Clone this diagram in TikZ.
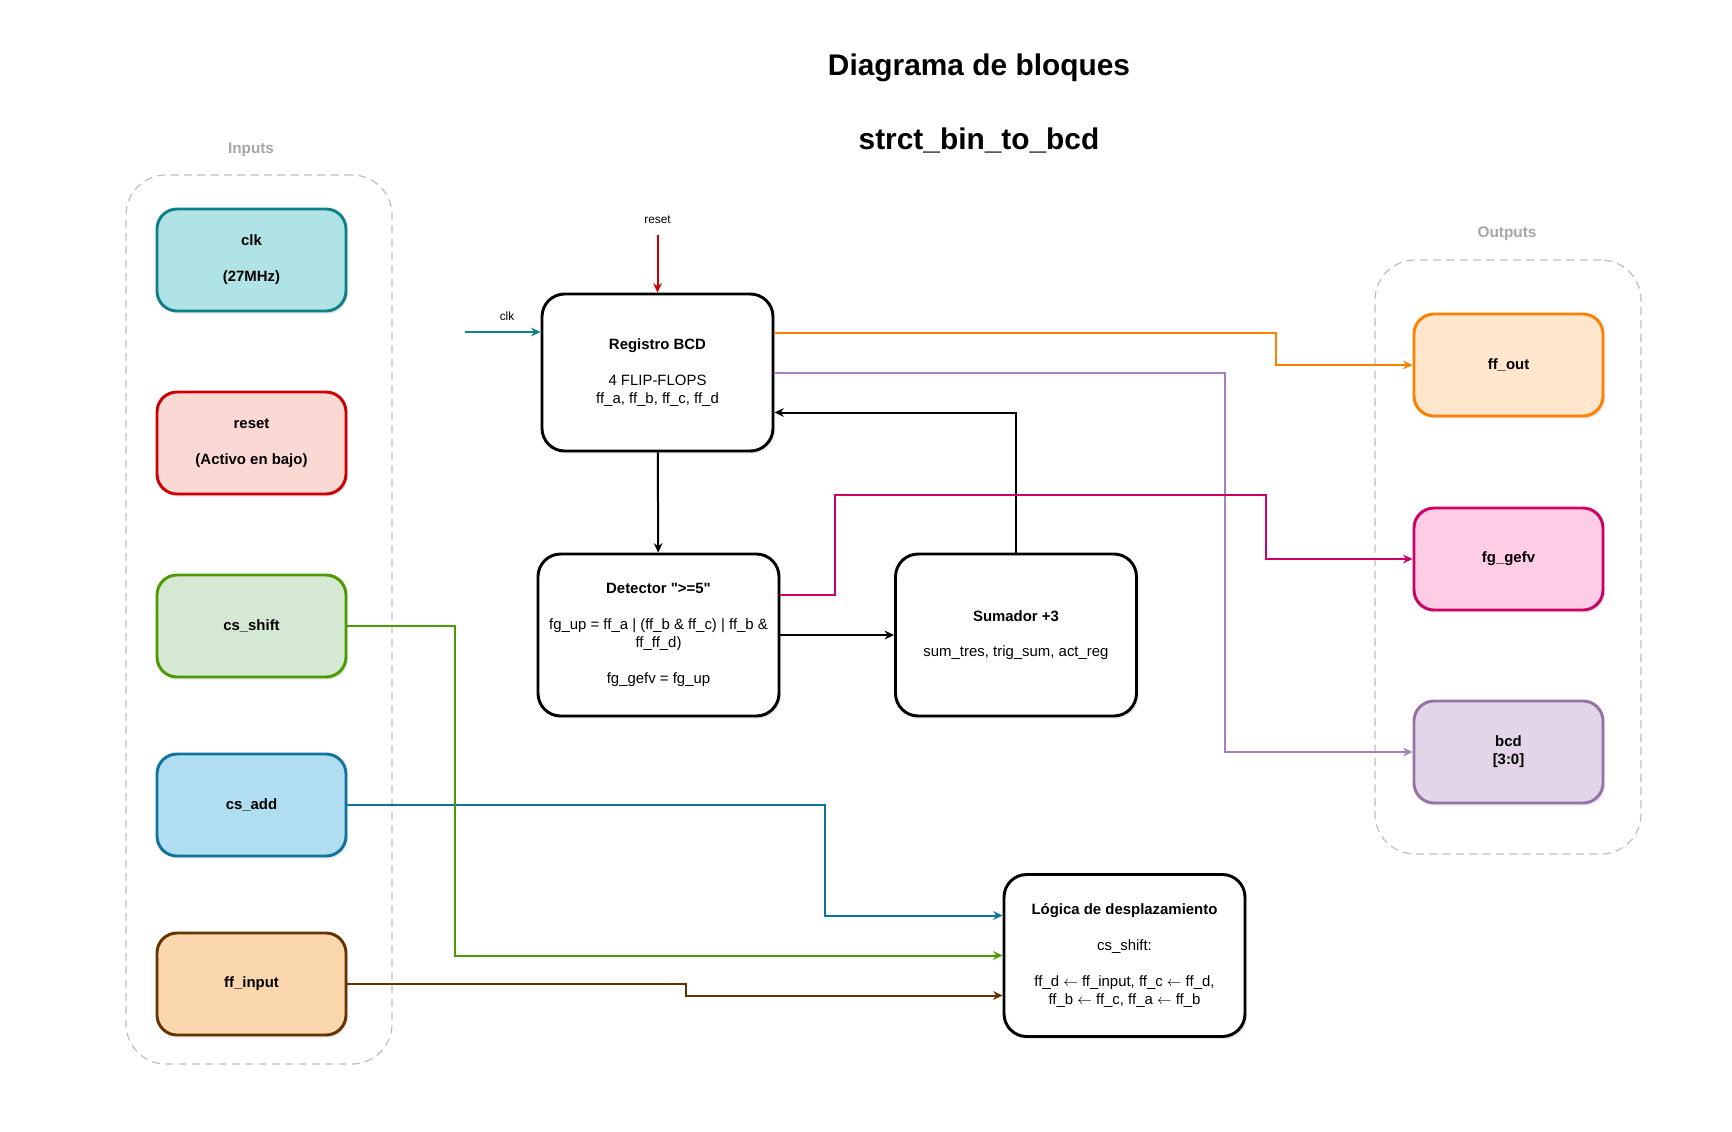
\documentclass[tikz,border=0pt]{standalone}
\usepackage{fontspec}
\setmainfont{Liberation Sans}[Ligatures=TeXOff]
\usepackage{tikz}
\usetikzlibrary{positioning,arrows.meta,calc,shadows}
\definecolor{ink}{HTML}{000000}
\definecolor{grpline}{HTML}{BDBDBD}
\definecolor{grptext}{HTML}{A6A6A6}
\definecolor{clkf}{HTML}{B0E3E6}
\definecolor{clkd}{HTML}{0E8088}
\definecolor{rstf}{HTML}{FAD9D5}
\definecolor{rstd}{HTML}{CC0000}
\definecolor{shff}{HTML}{D5E8D4}
\definecolor{shfd}{HTML}{4D9900}
\definecolor{addf}{HTML}{B1DDF0}
\definecolor{addd}{HTML}{10739E}
\definecolor{inpf}{HTML}{FAD7AC}
\definecolor{inpd}{HTML}{663300}
\definecolor{outf}{HTML}{FFE6CC}
\definecolor{outd}{HTML}{FF8000}
\definecolor{gefvf}{HTML}{FFCCE6}
\definecolor{gefvd}{HTML}{CC0066}
\definecolor{bcdf}{HTML}{E1D5E7}
\definecolor{bcdd}{HTML}{9673A6}
\definecolor{bcdl}{HTML}{A680B8}
\newcommand{\lar}{$\leftarrow$}
\tikzset{
  shd/.style={drop shadow={opacity=0.18,shadow xshift=1.5pt,shadow yshift=-2pt}},
  io/.style={rectangle,rounded corners=15pt,line width=2.2pt,shd,
    minimum width=141.75pt,minimum height=76.5pt,align=center,
    font=\fontsize{11.2}{13.4}\selectfont\bfseries},
  blk/.style={rectangle,rounded corners=17pt,line width=2.2pt,draw=ink,fill=white,shd,
    align=center,font=\fontsize{11.2}{13.4}\selectfont,
    minimum width=180.75pt,minimum height=121.5pt},
  grp/.style={rectangle,rounded corners=30pt,draw=grpline,dashed,line width=0.9pt,
    dash pattern=on 6pt off 4pt},
  grplbl/.style={font=\fontsize{11.5}{13}\selectfont\bfseries,text=grptext},
  ttl/.style={font=\fontsize{22.4}{27}\selectfont\bfseries},
  sig/.style={font=\fontsize{8.9}{10}\selectfont},
  ar/.style={-{Stealth[length=7pt,width=6.5pt]},line width=1.5pt,draw=ink},
}

\begin{document}
\begin{tikzpicture}[x=0.75pt,y=-0.75pt]
  \useasboundingbox (0,0) rectangle (1732,1132);
  % titles
  \node[ttl] (t1) at (979,68) {Diagrama de bloques};
  \node[ttl] (t2) at (979,140) {strct\_bin\_to\_bcd};
  % groups
  \node[grp,minimum width=199.5pt,minimum height=666.75pt] (ingrp) at (259,619.5) {};
  \node[grplbl] (inlbl) at (251,150) {Inputs};
  \node[grp,minimum width=199.5pt,minimum height=445.5pt] (outgrp) at (1508,557) {};
  \node[grplbl] (outlbl) at (1507,234) {Outputs};
  % inputs
  \node[io,draw=clkd,fill=clkf] (clk) at (251.5,260) {clk\\[13.4pt](27MHz)};
  \node[io,draw=rstd,fill=rstf] (rst) at (251.5,443) {reset\\[13.4pt](Activo en bajo)};
  \node[io,draw=shfd,fill=shff] (shift) at (251.5,626) {cs\_shift};
  \node[io,draw=addd,fill=addf] (add) at (251.5,805) {cs\_add};
  \node[io,draw=inpd,fill=inpf] (ffin) at (251.5,984) {ff\_input};
  % outputs
  \node[io,draw=outd,fill=outf] (ffout) at (1508.5,365) {ff\_out};
  \node[io,draw=gefvd,fill=gefvf] (fgv) at (1508.5,559) {fg\_gefv};
  \node[io,draw=bcdd,fill=bcdf] (bcd) at (1508.5,752) {bcd\\{[3:0]}};
  % core blocks
  \node[blk,minimum width=173.25pt,minimum height=117.75pt] (reg) at (657.5,372.5)
    {\textbf{Registro BCD}\\[13.4pt]4 FLIP-FLOPS\\ff\_a, ff\_b, ff\_c, ff\_d};
  \node[blk] (det) at (658.5,635)
    {\textbf{Detector ">=5"}\\[13.4pt]fg\_up = ff\_a | (ff\_b \& ff\_c) | ff\_b \&\\ff\_ff\_d)\\[13.4pt]fg\_gefv = fg\_up};
  \node[blk] (sum) at (1016,635)
    {\textbf{Sumador +3}\\[13.4pt]sum\_tres, trig\_sum, act\_reg};
  \node[blk] (log) at (1124.5,955.5)
    {\textbf{Lógica de desplazamiento}\\[13.4pt]cs\_shift:\\[13.4pt]ff\_d \lar{} ff\_input, ff\_c \lar{} ff\_d,\\ff\_b \lar{} ff\_c, ff\_a \lar{} ff\_b};
  % external signals
  \node[sig] (rstlbl) at (657.5,220) {reset};
  \coordinate (rstin) at (657.5,235);
  \node[sig] (clklbl) at (507,316) {clk};
  \coordinate (clkin) at (465,332);
  \draw[ar,draw=rstd] (rstin) -- (reg.north);
  \draw[ar,draw=clkd] (clkin) -- (clkin -| reg.west);
  % internal flow
  \foreach \a/\b in {reg/det,det/sum} \draw[ar] (\a)--(\b);
  \draw[ar] (sum.north) |- ($(reg.east)+(0,40)$);
  % outputs
  \draw[ar,draw=outd] ($(reg.east)+(0,-40)$) -- ++(502,0) |- (ffout.west);
  \draw[ar,draw=bcdl] (reg.east) -- ++(451,0) |- (bcd.west);
  \draw[ar,draw=gefvd] ($(det.east)+(0,-40)$) -- ++(55,0) -- ++(0,-100) -- ++(431,0) |- (fgv.west);
  % inputs to shift logic
  \draw[ar,draw=addd] (add.east) -- ++(478,0) |- ($(log.west)+(0,-40)$);
  \draw[ar,draw=shfd] (shift.east) -- ++(108,0) |- (log.west);
  \draw[ar,draw=inpd] (ffin.east) -- ++(339,0) |- ($(log.west)+(0,40)$);
\end{tikzpicture}
\end{document}
